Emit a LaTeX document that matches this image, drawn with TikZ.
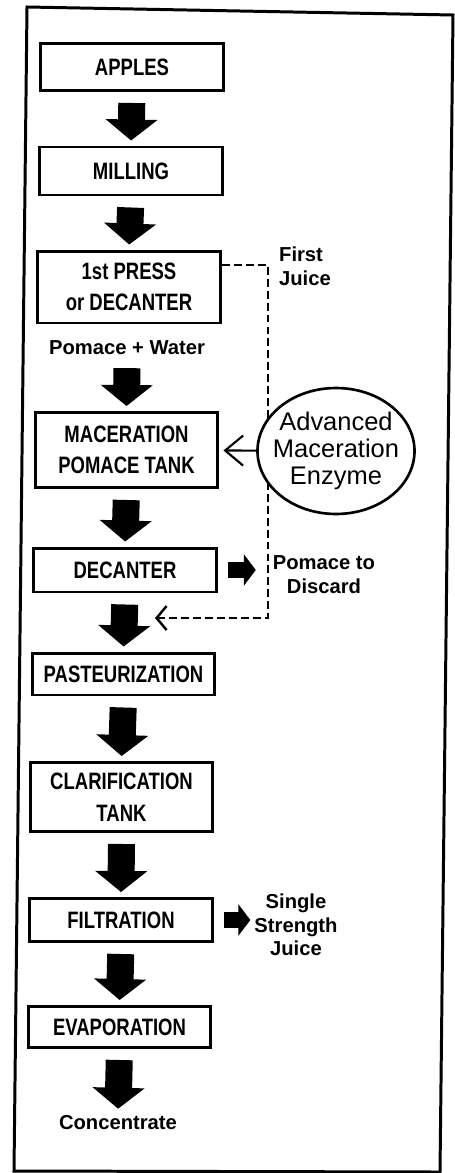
\documentclass[tikz,border=0pt]{standalone}
\usepackage{fontspec}
\setmainfont{Liberation Sans}
\newfontfamily\stagefont[FakeStretch=0.78]{Liberation Sans}
\usetikzlibrary{arrows.meta,shapes.geometric}

\colorlet{flow ink}{black}
\tikzset{
  stage/.style={draw=flow ink, line width=1.7pt, minimum width=3.66cm,
    align=center, inner sep=2pt,
    font=\stagefont\bfseries\fontsize{13.5}{18}\selectfont},
  side label/.style={align=center, inner sep=1pt,
    font=\bfseries\fontsize{11.5}{13.5}\selectfont},
  enzyme/.style={ellipse, draw=flow ink, line width=1.5pt, fill=white,
    minimum width=3.12cm, minimum height=2.52cm, inner xsep=-0.15cm,
    inner ysep=0pt, align=center, font=\fontsize{14.5}{15.5}\selectfont}
  }
\tikzstyle{down arrow} = [draw, line width=0.54cm, shorten <=0.22cm, shorten >=0.1cm,
  -{Triangle[length=0.42cm, width=1.02cm]}]
\tikzstyle{side arrow} = [draw, line width=0.32cm, -{Triangle[length=0.24cm, width=0.62cm]}]
\tikzstyle{juice line} = [draw, line width=1.4pt, dash pattern=on 4.5pt off 2.3pt,
  -{Straight Barb[length=0.2cm, width=0.48cm]}]
\tikzstyle{feed arrow} = [draw, line width=1.2pt, shorten >=0.08cm,
  -{Straight Barb[length=0.36cm, width=0.6cm]}]

\begin{document}
\begin{tikzpicture}[x=0.02cm, y=-0.02cm]
    \useasboundingbox (0,0) rectangle (455,1173);

    % outer frame (scanned page, slightly skewed)
    \draw[line width=1.7pt] (27,7) -- (453,15) -- (440,1172) -- (14,1171) -- cycle;

    % process stages
    \foreach \pos/\name/\hgt/\txt in {
      {(132,67)/apples/0.94/APPLES},
      {(131,171)/milling/0.96/MILLING},
      {(129,287)/press/1.44/{1st PRESS\\or DECANTER}},
      {(126.5,450)/macer/1.5/{MACERATION\\POMACE TANK}},
      {(125,570)/decanter/0.88/DECANTER},
      {(123.5,674)/past/0.84/PASTEURIZATION},
      {(121.5,797)/clar/1.38/{CLARIFICATION\\TANK}},
      {(121,920)/filt/0.86/FILTRATION},
      {(119.5,1027)/evap/0.82/EVAPORATION}} {
      \node[stage, minimum height=\hgt cm] (\name) at \pos {\txt};
    }

    \node[side label] (water) at (127,348) {Pomace + Water};
    \node[side label] (conc) at (118,1123) {Concentrate};
    \node[side label, align=left] (first) at (305,266) {First\\Juice};
    \node[side label] (discard) at (324,575) {Pomace to\\Discard};
    \node[side label] (single) at (296,925) {Single\\Strength\\Juice};

    % first juice goes round to the decanter outlet
    \coordinate (jtop) at (268,265);
    \coordinate (jbot) at (268,618);
    \coordinate (jend) at (155,618);
    \path[juice line] (press.east |- jtop) -- (jtop) -- (jbot) -- (jend);

    \node[enzyme] (enzyme) at (336,451) {Advanced\\Maceration\\Enzyme};
    \path[feed arrow] (enzyme) -- (macer);

    \foreach \a/\b in {apples/milling, milling/press, water/macer, macer/decanter,
      decanter/past, past/clar, clar/filt, filt/evap, evap/conc} {
      \path[down arrow] (\a.south) -- (\b.north);
    }

    \path[side arrow, shorten <=0.2cm, shorten >=0.3cm] (decanter.east) -- (decanter.east -| discard.west);
    \path[side arrow, shorten <=0.2cm, shorten >=0.04cm] (filt.east) -- (filt.east -| single.west);
\end{tikzpicture}
\end{document}
